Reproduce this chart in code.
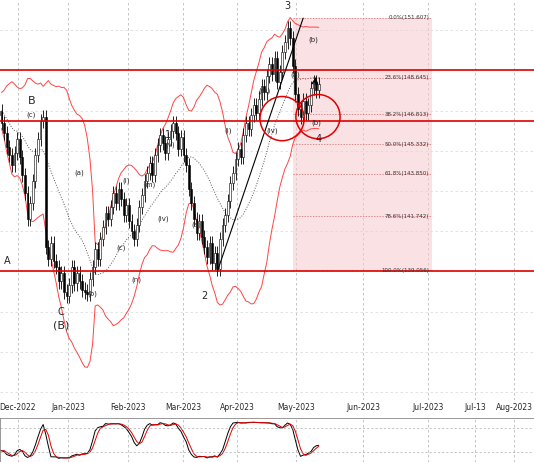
import numpy as np, pandas as pd, matplotlib
matplotlib.use("Agg")
import matplotlib.pyplot as plt, seaborn as sns
from matplotlib.patches import Rectangle, Ellipse

closes = [147.6,147.2,146.8,147.0,146.4, 145.9,145.2,144.8,144.3,144.9,
 145.6,144.7,143.8,142.9,141.6, 142.4,143.5,144.8,145.6,146.5,
 146.7,140.2,139.6,140.4,139.5, 139.2,138.5,138.9,138.0,137.8,
 138.3,139.2,138.4,138.9,138.5, 138.1,138.0,137.9,138.6,139.2,
 140.1,139.6,140.6,141.2,141.9, 141.6,142.2,142.9,142.4,143.1,
 142.6,141.8,142.3,141.5,141.0, 140.6,141.3,142.2,142.8,143.5,
 143.9,144.4,143.8,144.8,145.3, 145.8,145.4,144.9,145.6,146.0,
 146.4,145.9,145.1,145.7,144.8, 144.3,143.1,142.4,141.6,140.9,
 141.5,140.7,140.2,139.7,140.4, 139.4,139.9,139.1,140.6,141.3,
 141.8,142.5,143.4,143.9,144.6, 145.1,144.7,145.8,146.4,146.1,
 146.8,147.3,146.9,147.6,148.2, 147.9,148.7,149.3,148.8,149.6,
 148.4,148.9,149.9,150.4,151.1, 150.6,149.2,147.8,147.1,146.7,
 147.5,146.9,147.3,148.1,148.4, 148.0,148.3]
tick_labels = ["Dec-2022","Jan-2023","Feb-2023","Mar-2023","Apr-2023","May-2023","Jun-2023","Jul-2023","Jul-13","Aug-2023"]
tick_px = [18,68,128,183,237,296,363,428,475,514]
fib_levels = [0.0,23.6,38.2,50.0,61.8,78.6,100.0]
fib_top, fib_bot = 151.607, 139.056
hlines = [149.0,146.5,139.0]

sns.set_style("white")
df = pd.DataFrame({"c": closes})
df["i"] = np.arange(len(df))
df["o"] = df["c"].shift(1).fillna(df["c"].iloc[0] + 0.2)
df["h"] = df[["o","c"]].max(axis=1) + 0.35
df["l"] = df[["o","c"]].min(axis=1) - 0.35
mid = df["c"].rolling(20, min_periods=5).mean()
sd = df["c"].rolling(20, min_periods=5).std()
df["mid"], df["up"], df["dn"] = mid, mid + 2*sd, mid - 2*sd

fig = plt.figure(figsize=(5.34,4.62), dpi=100)
ax = fig.add_axes([0,0.134,1,0.866])
ax2 = fig.add_axes([0,0,1,0.095])
x0 = 3.4; ppu = 2.6
ax.set_ylim(132.6,152.5)
ticks = [x0+p/ppu for p in tick_px]
for a in (ax, ax2):
    a.set_xticks(ticks); a.set_yticks([])
    for t in ticks: a.axvline(t, color="#bbbbbb", lw=0.6, ls=(0,(3,3)), zorder=0)
    a.set_xlim(x0, x0+534/ppu)
for y in np.arange(133,153,2):
    ax.axhline(y, color="#dddddd", lw=0.6, ls=(0,(3,3)), zorder=0)
ax.set_xticklabels(tick_labels, fontsize=5.5)
ax.tick_params(axis="x", length=0, pad=2)
ax2.set_xticklabels([])
ax2.tick_params(axis="x", length=0)

ax.vlines(df.i, df.l, df.h, color="black", lw=0.6, zorder=3)
body = (df.c-df.o).abs().clip(lower=0.05)
cols = np.where(df.c >= df.o, "white", "black")
ax.bar(df.i, body, bottom=df[["o","c"]].min(axis=1), width=0.7, color=cols, edgecolor="black", lw=0.4, zorder=4)
sns.lineplot(x=df.i, y=df.up, ax=ax, color="#ff4444", lw=0.7)
sns.lineplot(x=df.i, y=df.dn, ax=ax, color="#ff4444", lw=0.7)
sns.lineplot(x=df.i, y=df.mid, ax=ax, color="#555555", lw=0.7, linestyle=":")
ax.set_xlabel(""); ax.set_ylabel("")

for h in hlines: ax.axhline(h, color="#e00000", lw=1.2, zorder=5)
fx0, fx1 = 116, x0+432/ppu
ax.add_patch(Rectangle((fx0, fib_bot), fx1-fx0, fib_top-fib_bot, color="#f7c9cc", alpha=0.55, zorder=1, lw=0))
for f in fib_levels:
    p = fib_top - (fib_top-fib_bot)*f/100
    ax.plot([fx0, fx1], [p,p], color="#cc6666", lw=0.5, ls=(0,(2,2)), zorder=2)
    ax.text(fx1-1, p, f"{f:.1f}%({p:.3f})", fontsize=4, ha="right", va="center", color="#333333", zorder=6)
ax.plot([87,120],[139.0,151.6], color="black", lw=0.8, zorder=5)
for cx, cy in [(111.9,146.6),(125.7,146.7)]:
    ax.add_patch(Ellipse((cx,cy), 17, 2.2, fill=False, ec="#e00000", lw=1.1, zorder=6))
labels = [("B",15.5,147.5,8),("(c)",15.5,146.8,5),("A",6,139.5,7),("C",27,137.0,7),("(B)",27,136.3,8),
          ("1",68,145.8,7),("2",82,137.8,7),("3",114,152.2,7),("4",126,145.6,7),("(iv)",108,146.0,5),
          ("(b)",125,146.4,5),("(a)",117,148.8,5),("(b)",124,150.5,5),("(m)",105,148.0,5),
          ("(i)",91,146.0,5),("(v)",69,145.3,5),("(a)",34,143.9,5),("(b)",39,137.9,5),("(c)",50,140.2,5),
          ("(m)",61,143.3,5),("(iv)",66,141.6,5),("(a)",79,141.3,5),("(i)",52,143.5,5),("(n)",56,138.6,5)]
for t,x,y,s in labels:
    ax.text(x,y,t,fontsize=s,ha="center",va="center",zorder=7)
ax.annotate("", xy=(125,148.8), xytext=(124.5,148.3), arrowprops=dict(arrowstyle="-|>", color="black", lw=0.8))
for s in ax.spines.values(): s.set_visible(False)

lo = df.l.rolling(14, min_periods=3).min(); hi = df.h.rolling(14, min_periods=3).max()
k = 100*(df.c-lo)/(hi-lo); kf = k.rolling(3, min_periods=1).mean(); d = kf.rolling(3, min_periods=1).mean()
sns.lineplot(x=df.i, y=kf, ax=ax2, color="black", lw=0.7)
sns.lineplot(x=df.i, y=d, ax=ax2, color="#e00000", lw=0.7)
for h in (20,80): ax2.axhline(h, color="#aaaaaa", lw=0.5, ls=(0,(3,3)))
ax2.set_ylim(-5,105); ax2.set_xlabel(""); ax2.set_ylabel("")
for s in ax2.spines.values(): s.set_color("#888888"); s.set_linewidth(0.6)
fig.savefig("out.png", dpi=100)
